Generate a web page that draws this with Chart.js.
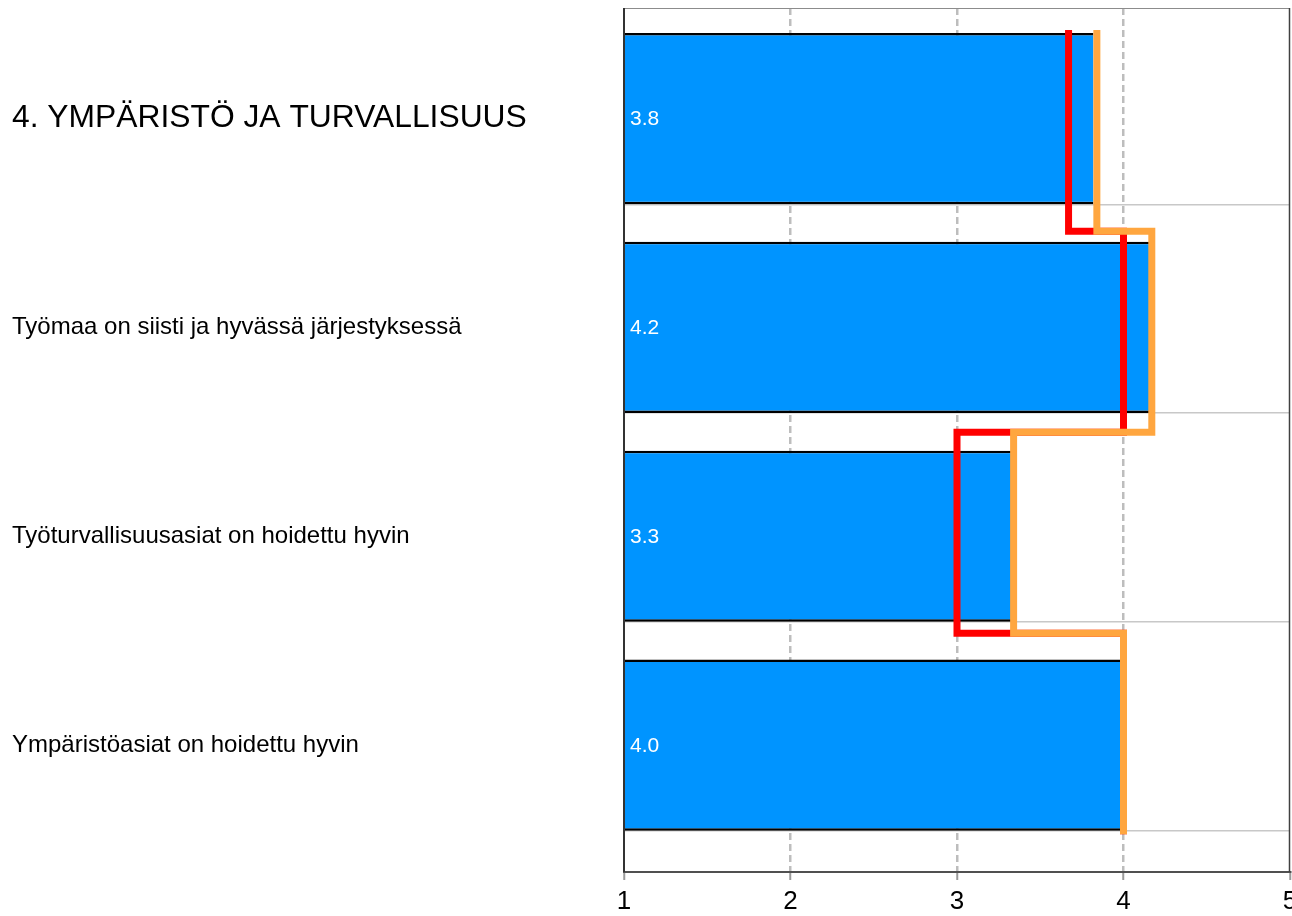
<!DOCTYPE html>
<html>
<head>
<meta charset="utf-8">
<script src="https://cdn.jsdelivr.net/npm/chart.js@4"></script>
<style>
  html, body { margin: 0; padding: 0; background: #fff; overflow: hidden; }
  #wrap { width: 1292px; height: 916px; position: relative; }
</style>
</head>
<body>
<div id="wrap"><canvas id="c"></canvas></div>
<script>
// ---- data ----
const categories = [
  "4. YMPÄRISTÖ JA TURVALLISUUS",
  "Työmaa on siisti ja hyvässä järjestyksessä",
  "Työturvallisuusasiat on hoidettu hyvin",
  "Ympäristöasiat on hoidettu hyvin"
];
const scores = [3.82, 4.16, 3.33, 3.98];      // blue bars
const redValues = [3.67, 4.0, 3.0, 4.0];       // red step line
const orangeValues = [3.84, 4.17, 3.34, 4.0];  // orange step line
const xTicks = [1, 2, 3, 4, 5];

// ---- helpers ----
const barPoints = scores.map((v, i) => ({ x: v, y: i }));
const stepPoints = vals => vals.flatMap((v, i) => [{ x: v, y: i }, { x: v, y: i + 1 }]);

const Y_MIN = -0.530, Y_MAX = 3.608;     // category axis range
const Y2_MIN = -0.110, Y2_MAX = 4.1875;  // step-line axis range
const BAR_EDGE = 0.41;                   // grid lines at bar bottoms

const frame = {
  id: 'frame',
  afterDatasetsDraw(chart) {
    const { ctx, chartArea: a } = chart;
    ctx.save();
    ctx.lineCap = 'butt';
    ctx.strokeStyle = '#8c8c8c'; ctx.lineWidth = 1;
    ctx.beginPath(); ctx.moveTo(a.left, a.top + 0.5); ctx.lineTo(a.right, a.top + 0.5); ctx.stroke();
    ctx.strokeStyle = '#404040'; ctx.lineWidth = 1.5;
    ctx.beginPath(); ctx.moveTo(a.right - 0.5, a.top); ctx.lineTo(a.right - 0.5, a.bottom); ctx.stroke();
    ctx.strokeStyle = '#333'; ctx.lineWidth = 2;
    ctx.beginPath(); ctx.moveTo(a.left, a.top); ctx.lineTo(a.left, a.bottom); ctx.stroke();
    ctx.restore();
  }
};

const valueLabels = {
  id: 'valueLabels',
  afterDatasetsDraw(chart) {
    const meta = chart.getDatasetMeta(2);
    const { ctx } = chart;
    const x0 = chart.scales.x.getPixelForValue(chart.scales.x.min);
    ctx.save();
    ctx.fillStyle = '#ffffff';
    ctx.font = '21px "Liberation Sans", Arial, sans-serif';
    ctx.textAlign = 'left';
    ctx.textBaseline = 'middle';
    meta.data.forEach((el, i) => {
      ctx.fillText(scores[i].toFixed(1), x0 + 6, el.y + 1);
    });
    ctx.restore();
  }
};

new Chart(document.getElementById('c'), {
  type: 'bar',
  data: {
    datasets: [
      {
        type: 'line', label: 'orange', data: stepPoints(orangeValues),
        xAxisID: 'x', yAxisID: 'y2', order: 0,
        borderColor: '#FFA63F', borderWidth: 7, pointRadius: 0, tension: 0,
        fill: false, borderJoinStyle: 'miter', borderCapStyle: 'butt'
      },
      {
        type: 'line', label: 'red', data: stepPoints(redValues),
        xAxisID: 'x', yAxisID: 'y2', order: 1,
        borderColor: '#FF0000', borderWidth: 7, pointRadius: 0, tension: 0,
        fill: false, borderJoinStyle: 'miter', borderCapStyle: 'butt'
      },
      {
        type: 'bar', label: 'score', data: barPoints,
        xAxisID: 'x', yAxisID: 'y', order: 2,
        backgroundColor: '#0094FF', borderColor: '#000000',
        borderWidth: { top: 2.5, bottom: 2.5, left: 0, right: 0 },
        borderSkipped: false, grouped: false,
        categoryPercentage: 1, barPercentage: 0.82
      }
    ]
  },
  options: {
    indexAxis: 'y',
    responsive: true,
    maintainAspectRatio: false,
    animation: false,
    layout: { padding: { left: 12, right: 2, top: 8, bottom: 0 } },
    plugins: { legend: { display: false }, tooltip: { enabled: false } },
    scales: {
      x: {
        type: 'linear', position: 'bottom', min: 1, max: 5, offset: false,
        afterBuildTicks: s => { s.ticks = xTicks.map(v => ({ value: v })); },
        afterFit: s => { s.height = 44; s.paddingLeft = 0; s.paddingRight = 0; },
        ticks: {
          padding: 6, color: '#000',
          font: { family: '"Liberation Sans", Arial, sans-serif', size: 26 }
        },
        grid: {
          color: c => (c.tick && (c.tick.value === 1 || c.tick.value === 5)) ? 'rgba(0,0,0,0)' : '#bdbdbd',
          lineWidth: 2.5, tickColor: '#9a9a9a', tickLength: 8, tickWidth: 2
        },
        border: { display: true, color: '#505050', width: 2, dash: [7, 4] }
      },
      y: {
        type: 'linear', position: 'left', reverse: true, min: Y_MIN, max: Y_MAX, offset: false,
        afterBuildTicks: s => { s.ticks = categories.map((_, i) => ({ value: i })); },
        afterFit: s => { s.width = 612; s.paddingTop = 0; s.paddingBottom = 0; },
        ticks: {
          crossAlign: 'far', color: '#000', padding: 0,
          callback: v => categories[v],
          font: c => ({
            family: '"Liberation Sans", Arial, sans-serif',
            size: (c.tick && c.tick.value === 0) ? 31.8 : 24
          })
        },
        grid: { display: false, offset: false },
        border: { display: false }
      },
      y2: {
        type: 'linear', display: false, reverse: true, min: Y2_MIN, max: Y2_MAX, offset: false,
        grid: { offset: false }
      },
      yg: {
        type: 'linear', position: 'right', reverse: true, min: Y_MIN, max: Y_MAX, offset: false,
        afterBuildTicks: s => { s.ticks = categories.map((_, i) => ({ value: i + BAR_EDGE })); },
        afterFit: s => { s.width = 0; s.paddingTop = 0; s.paddingBottom = 0; },
        ticks: { display: false },
        grid: { color: '#c8c8c8', lineWidth: 1.5, drawTicks: false, offset: false },
        border: { display: false }
      }
    }
  },
  plugins: [frame, valueLabels]
});
</script>
</body>
</html>
